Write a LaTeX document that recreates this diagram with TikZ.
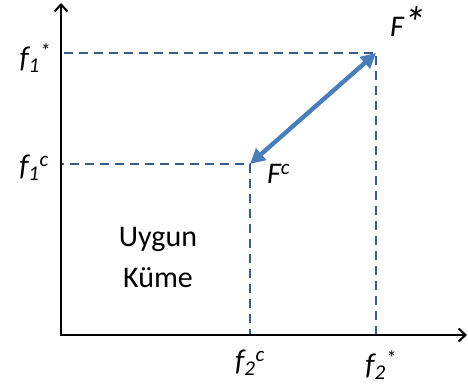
\documentclass[tikz,border=0pt]{standalone}
\usepackage{fontspec}
\setmainfont{Carlito}
\usepackage{tikz}
\usetikzlibrary{arrows.meta, positioning}
\definecolor{guideblue}{RGB}{56,93,138}
\definecolor{gapblue}{RGB}{74,126,187}

\begin{document}
\begin{tikzpicture}[
  x=1pt, y=1pt,
  axis/.style={line width=2pt, draw=black, -{Straight Barb[length=7pt, width=13pt, line width=2pt]}},
  guide/.style={line width=2pt, draw=guideblue, dash pattern=on 9pt off 6pt},
  gap/.style={line width=4.4pt, draw=gapblue, {Triangle[length=15pt, width=15pt]}-{Triangle[length=15pt, width=15pt]}},
  lbl/.style={inner sep=0pt, font=\fontsize{30}{36}\selectfont\itshape},
  region/.style={inner sep=0pt, align=center, font=\fontsize{30}{41}\selectfont}
]
\useasboundingbox (0,0) rectangle (468,391);

\coordinate (O) at (61,56);
\coordinate (ytip) at (61,388);
\coordinate (xtip) at (467,56);
\coordinate (Fs) at (376,338);
\coordinate (Fc) at (250,227);
\coordinate (f1s) at (61,338);
\coordinate (f1c) at (61,227);
\coordinate (f2s) at (376,56);
\coordinate (f2c) at (250,56);

% dashed bounds
\draw[guide] (O) rectangle (Fs);
\draw[guide] (O) rectangle (Fc);

% axes
\draw[axis] (61,55) -- (ytip);
\draw[axis] (60,56) -- (xtip);

\draw[gap] (Fc) -- (Fs);

\node[lbl, above right=14pt and 14pt of Fs] (Fslbl) {F\raisebox{-2pt}{\scalebox{1.5}{*}}};
\node[lbl, below right=0pt and 17pt of Fc] (Fclbl) {F\textsuperscript{c}};
\node[lbl, left=10pt of f1s, yshift=-5pt] (f1slbl) {f\textsubscript{1}\textsuperscript{*}};
\node[lbl, left=12pt of f1c, yshift=-4pt] (f1clbl) {f\textsubscript{1}\textsuperscript{c}};
\node[lbl, below=15pt of f2c] (f2clbl) {f\textsubscript{2}\textsuperscript{c}};
\node[lbl, below=15pt of f2s, xshift=5pt] (f2slbl) {f\textsubscript{2}\textsuperscript{*}};
\node[region] (set) at (158,134) {Uygun\\Küme};
\end{tikzpicture}
\end{document}
